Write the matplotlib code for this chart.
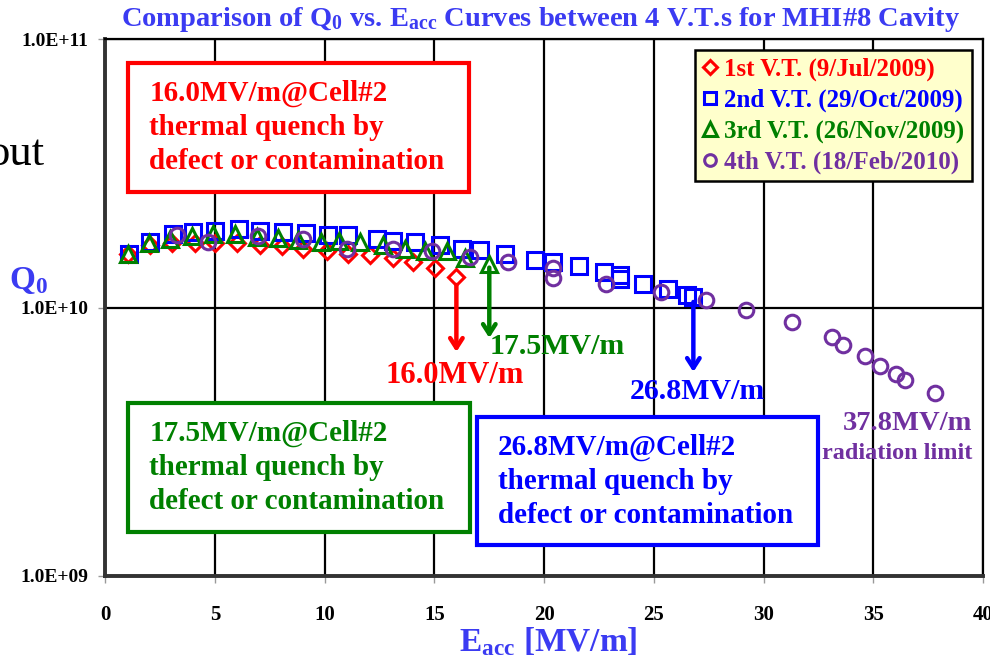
import matplotlib
matplotlib.use("Agg")
import matplotlib.pyplot as plt
from matplotlib.patches import Rectangle
from matplotlib.ticker import FixedLocator, NullLocator

plt.rcParams['font.family'] = ['Liberation Serif', 'DejaVu Serif']
plt.rcParams['font.weight'] = 'bold'
plt.rcParams['mathtext.fontset'] = 'custom'
plt.rcParams['mathtext.rm'] = 'Liberation Serif:bold'
plt.rcParams['mathtext.it'] = 'Liberation Serif:bold'
plt.rcParams['mathtext.bf'] = 'Liberation Serif:bold'

# Q0 values are given in units of 1e10
# 1st V.T. (9/Jul/2009)
eacc1 = [1.04, 2.03, 3.02, 4.08, 5.0, 5.99, 7.05, 8.04, 9.02, 10.09, 11.08, 12.07,
         13.13, 14.04, 15.03, 16.0]
q1 = [1.59, 1.71, 1.74, 1.74, 1.74, 1.74, 1.71, 1.69, 1.65, 1.62, 1.59, 1.57,
      1.53, 1.48, 1.40, 1.30]
# 2nd V.T. (29/Oct/2009)
eacc2 = [1.09, 2.04, 3.07, 4.01, 5.0, 6.11, 7.05, 8.08, 9.15, 10.17, 11.08, 12.37,
         13.12, 14.12, 15.26, 16.25, 17.08, 18.22, 19.58, 20.42, 21.6, 22.73, 23.46,
         23.46, 24.52, 25.66, 26.5, 26.8]
q2 = [1.59, 1.76, 1.88, 1.92, 1.93, 1.96, 1.93, 1.91, 1.89, 1.87, 1.87, 1.80,
      1.77, 1.75, 1.71, 1.66, 1.64, 1.59, 1.51, 1.48, 1.43, 1.36, 1.32,
      1.28, 1.22, 1.17, 1.11, 1.10]
# 3rd V.T. (26/Nov/2009)
eacc3 = [1.05, 2.0, 2.95, 3.94, 4.92, 5.91, 6.9, 7.89, 8.8, 9.82, 10.67, 11.6,
         12.67, 13.66, 14.57, 15.56, 16.4, 17.5]
q3 = [1.59, 1.74, 1.81, 1.85, 1.88, 1.88, 1.84, 1.82, 1.79, 1.76, 1.77, 1.75,
      1.71, 1.66, 1.62, 1.62, 1.53, 1.46]
# 4th V.T. (18/Feb/2010)
eacc4 = [3.25, 4.69, 6.97, 9.0, 11.0, 13.13, 14.88, 16.62, 18.37, 20.42, 20.42,
         22.8, 25.31, 27.38, 29.2, 31.29, 33.11, 33.63, 34.63, 35.31, 36.04, 36.45, 37.8]
q4 = [1.87, 1.76, 1.85, 1.81, 1.65, 1.66, 1.62, 1.54, 1.48, 1.40, 1.29,
      1.22, 1.14, 1.07, 0.98, 0.887, 0.776, 0.726, 0.661, 0.606, 0.566, 0.538, 0.480]

labels = ['1st V.T. (9/Jul/2009)', '2nd V.T. (29/Oct/2009)',
          '3rd V.T. (26/Nov/2009)', '4th V.T. (18/Feb/2010)']
RED, BLUE, GREEN, PURPLE = '#ff0000', '#0000ff', '#008000', '#7030a0'
colors = [RED, BLUE, GREEN, PURPLE]
TITLE_BLUE = '#3b3bf2'

# quench arrows: (Eacc, Q0 at tail, Q0 at head, colour)
quenches = [(16.0, 1.215, 0.684, RED),
            (17.5, 1.41, 0.771, GREEN),
            (26.8, 1.05, 0.576, BLUE)]

yticks = [1e9, 1e10, 1e11]
yticklabels = ['1.0E+09', '1.0E+10', '1.0E+11']
xticks = [0, 5, 10, 15, 20, 25, 30, 35, 40]

W, H = 990, 655
fig = plt.figure(figsize=(W / 100, H / 100), dpi=100)
ax = fig.add_axes([105.3 / W, 1 - 576 / H, (983 - 105.3) / W, (576 - 39.3) / H])

def px(x, y):
    return x / W, 1 - y / H

series = [(eacc1, q1, 'D', 8.5), (eacc2, q2, 's', 11.5),
          (eacc3, q3, '^', 12), (eacc4, q4, 'o', 10.5)]
for (ex, qv, mk, ms), c, lab in zip(series, colors, labels):
    ax.plot(ex, [v * 1e10 for v in qv], ls='none', marker=mk, ms=ms, mfc='none',
            mec=c, mew=2.2, label=lab, zorder=4)

ax.set_yscale('log')
ax.set_xlim(0, 40)
ax.set_ylim(1e9, 1e11)
ax.xaxis.set_major_locator(FixedLocator(xticks))
ax.yaxis.set_major_locator(FixedLocator(yticks))
ax.yaxis.set_minor_locator(NullLocator())
ax.set_yticklabels(yticklabels)
ax.grid(True, color='black', lw=1.6, zorder=1)
ax.set_axisbelow(True)
ax.tick_params(axis='both', color='#999999', length=5, width=1)
ax.tick_params(axis='y', pad=7, labelsize=14)
ax.tick_params(axis='x', pad=16, labelsize=15)
for s in ['top', 'right']:
    ax.spines[s].set_linewidth(1.6)
for s in ['left', 'bottom']:
    ax.spines[s].set_linewidth(2.8)
    ax.spines[s].set_color('#333333')

# legend
leg = ax.legend(loc='upper right', bbox_to_anchor=(0.987, 0.98), fontsize=18,
                markerscale=0.8, handlelength=0.6, handletextpad=0.25,
                labelspacing=0.3, borderpad=0.3, borderaxespad=0,
                fancybox=False, framealpha=1, facecolor='#ffffcc',
                edgecolor='black', labelcolor='markeredgecolor')
leg.get_frame().set_linewidth(1.8)
leg.set_zorder(6)

# quench arrows
for ex, q_tail, q_head, c in quenches:
    ax.annotate('', xy=(ex, q_head * 1e10), xytext=(ex, q_tail * 1e10),
                arrowprops=dict(arrowstyle='->,head_length=0.7,head_width=0.45',
                                color=c, lw=3.2, shrinkA=0, shrinkB=0), zorder=5)

ax.text(15.94, 0.561e10, '16.0MV/m', color=RED, fontsize=22, ha='center', va='center')
ax.text(17.53, 0.714e10, '17.5MV/m', color=GREEN, fontsize=21.5, ha='left', va='center')
ax.text(27.0, 0.485e10, '26.8MV/m', color=BLUE, fontsize=21.5, ha='center', va='center')
ax.text(39.5, 0.369e10, '37.8MV/m', color=PURPLE, fontsize=20.5, ha='right', va='center')
ax.text(39.5, 0.285e10, 'radiation limit', color=PURPLE, fontsize=17.5, ha='right',
        va='center', zorder=3)

# quench description boxes
boxes = [((128.3, 63.3, 469.3, 191.7), 127, RED,
          '16.0MV/m@Cell#2\nthermal quench by\ndefect or contamination'),
         ((128.3, 402.7, 470, 531.7), 467, GREEN,
          '17.5MV/m@Cell#2\nthermal quench by\ndefect or contamination'),
         ((476.7, 416.7, 818.3, 545), 481, BLUE,
          '26.8MV/m@Cell#2\nthermal quench by\ndefect or contamination')]
for (x0, y0, x1, y1), yc, c, txt in boxes:
    fig.patches.append(Rectangle(px(x0, y1), (x1 - x0) / W, (y1 - y0) / H,
                                 transform=fig.transFigure, facecolor='white',
                                 edgecolor=c, lw=3, zorder=7))
    fig.text(*px(x0 + 21, yc), txt, color=c, fontsize=21, ha='left', va='center',
             linespacing=1.33, zorder=8)

fig.text(*px(540, 20), r'Comparison of $\mathrm{Q_0}$ vs. $\mathrm{E_{acc}}$ Curves between 4 V.T.s for MHI#8 Cavity',
         color=TITLE_BLUE, fontsize=20.5, ha='center', va='center')
fig.text(*px(28, 280), r'$\mathrm{Q_0}$', color=TITLE_BLUE, fontsize=24, ha='center', va='center')
fig.text(*px(548, 625), r'$\mathrm{E_{acc}}$ [MV/m]', color=TITLE_BLUE, fontsize=24,
         ha='center', va='top')
fig.text(*px(44, 165), 'out', color='black', fontsize=32, fontweight='normal',
         ha='right', va='baseline')

fig.savefig('out.png', dpi=100)
